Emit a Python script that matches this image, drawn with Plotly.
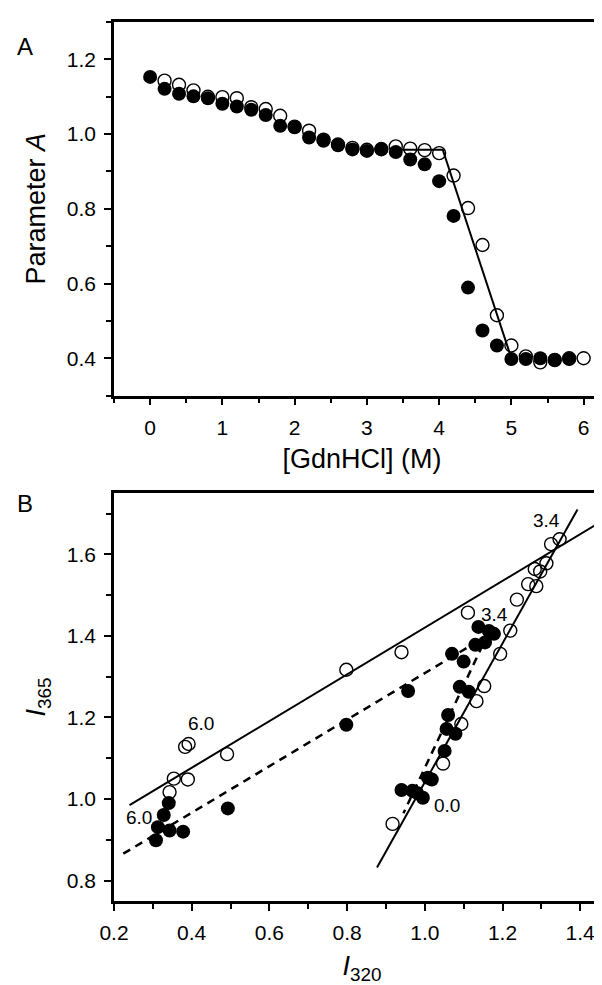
import plotly.graph_objects as go

# ---------------- Panel A data ----------------
conc_filled = [0.0, 0.2, 0.4, 0.6, 0.8, 1.0, 1.2, 1.4, 1.6, 1.8,
               2.0, 2.2, 2.4, 2.6, 2.8, 3.0, 3.2, 3.4, 3.6, 3.8,
               4.0, 4.2, 4.4, 4.6, 4.8, 5.0, 5.2, 5.4, 5.6, 5.8]
paramA_filled = [1.153, 1.121, 1.108, 1.101, 1.096, 1.081, 1.074, 1.065, 1.051, 1.022,
                 1.018, 0.991, 0.982, 0.970, 0.959, 0.955, 0.959, 0.952, 0.932, 0.919,
                 0.874, 0.781, 0.589, 0.474, 0.434, 0.398, 0.398, 0.400, 0.396, 0.398]
conc_open = [0.2, 0.4, 0.6, 0.8, 1.0, 1.2, 1.4, 1.6, 1.8, 2.0,
             2.2, 2.4, 2.6, 2.8, 3.0, 3.2, 3.4, 3.6, 3.8, 4.0,
             4.2, 4.4, 4.6, 4.8, 5.0, 5.2, 5.4, 5.6, 5.8, 6.0]
paramA_open = [1.143, 1.132, 1.117, 1.100, 1.099, 1.096, 1.072, 1.067, 1.049, 1.020,
               1.009, 0.985, 0.972, 0.963, 0.958, 0.960, 0.967, 0.961, 0.957, 0.949,
               0.889, 0.802, 0.703, 0.515, 0.434, 0.405, 0.389, 0.395, 0.400, 0.400]
fitA_x = [3.45, 4.05, 5.0]
fitA_y = [0.958, 0.958, 0.40]

# ---------------- Panel B data ----------------
I320_open = [0.343, 0.354, 0.390, 0.383, 0.392, 0.491, 0.798, 0.940, 1.111, 0.917,
             1.047, 1.094, 1.133, 1.153, 1.194, 1.220, 1.237, 1.266, 1.287, 1.283,
             1.297, 1.313, 1.325, 1.347]
I365_open = [1.017, 1.050, 1.048, 1.128, 1.135, 1.110, 1.317, 1.360, 1.457, 0.939,
             1.087, 1.184, 1.240, 1.277, 1.356, 1.413, 1.489, 1.527, 1.522, 1.564,
             1.558, 1.578, 1.625, 1.637]
I320_filled = [0.308, 0.313, 0.343, 0.378, 0.328, 0.341, 0.493, 0.798, 0.957, 0.940,
               0.968, 0.995, 0.980, 1.008, 1.018, 1.051, 1.056, 1.079, 1.060, 1.090,
               1.113, 1.070, 1.100, 1.130, 1.155, 1.138, 1.165, 1.178]
I365_filled = [0.899, 0.931, 0.923, 0.920, 0.961, 0.990, 0.977, 1.182, 1.265, 1.022,
               1.020, 1.003, 1.015, 1.052, 1.048, 1.118, 1.172, 1.160, 1.206, 1.275,
               1.263, 1.356, 1.337, 1.378, 1.384, 1.422, 1.412, 1.405]
fitB_open_shallow_x = [0.24, 1.45]
fitB_open_shallow_y = [0.985, 1.678]
fitB_open_steep_x = [0.877, 1.393]
fitB_open_steep_y = [0.832, 1.710]
fitB_filled_x = [0.224, 1.16, 0.945]
fitB_filled_y = [0.866, 1.40, 0.965]

label_text = ["3.4", "6.0", "3.4", "6.0", "0.0"]
label_x = [1.313, 0.425, 1.180, 0.264, 1.056]
label_y = [1.683, 1.186, 1.453, 0.955, 0.985]

FONT = "Liberation Sans, Arial, sans-serif"
BLACK = "black"

fig = go.Figure()

# Panel A
fig.add_trace(go.Scatter(x=fitA_x, y=fitA_y, mode="lines",
                         line=dict(color=BLACK, width=2), xaxis="x", yaxis="y",
                         showlegend=False, hoverinfo="skip"))
fig.add_trace(go.Scatter(x=conc_open, y=paramA_open, mode="markers",
                         marker=dict(symbol="circle-open", size=13, color=BLACK,
                                     line=dict(width=1.4, color=BLACK)),
                         xaxis="x", yaxis="y", showlegend=False))
fig.add_trace(go.Scatter(x=conc_filled, y=paramA_filled, mode="markers",
                         marker=dict(symbol="circle", size=14, color=BLACK),
                         xaxis="x", yaxis="y", showlegend=False))

# Panel B
fig.add_trace(go.Scatter(x=fitB_open_shallow_x, y=fitB_open_shallow_y, mode="lines",
                         line=dict(color=BLACK, width=2), xaxis="x2", yaxis="y2",
                         showlegend=False, hoverinfo="skip"))
fig.add_trace(go.Scatter(x=fitB_open_steep_x, y=fitB_open_steep_y, mode="lines",
                         line=dict(color=BLACK, width=2), xaxis="x2", yaxis="y2",
                         showlegend=False, hoverinfo="skip"))
fig.add_trace(go.Scatter(x=fitB_filled_x, y=fitB_filled_y, mode="lines",
                         line=dict(color=BLACK, width=2.5, dash="8px,6px"),
                         xaxis="x2", yaxis="y2", showlegend=False, hoverinfo="skip"))
fig.add_trace(go.Scatter(x=I320_open, y=I365_open, mode="markers",
                         marker=dict(symbol="circle-open", size=13, color=BLACK,
                                     line=dict(width=1.4, color=BLACK)),
                         xaxis="x2", yaxis="y2", showlegend=False))
fig.add_trace(go.Scatter(x=I320_filled, y=I365_filled, mode="markers",
                         marker=dict(symbol="circle", size=14, color=BLACK),
                         xaxis="x2", yaxis="y2", showlegend=False))

for t, lx, ly in zip(label_text, label_x, label_y):
    fig.add_annotation(x=lx, y=ly, xref="x2", yref="y2", text=t, showarrow=False,
                       font=dict(family=FONT, size=19, color=BLACK))

fig.add_annotation(x=-0.2, y=0.99, xref="paper", yref="paper", text="A",
                   showarrow=False, font=dict(family=FONT, size=24, color=BLACK))
fig.add_annotation(x=-0.2, y=0.452, xref="paper", yref="paper", text="B",
                   showarrow=False, font=dict(family=FONT, size=24, color=BLACK))

common = dict(showline=True, linecolor=BLACK, linewidth=2.5, ticks="outside",
              ticklen=7, tickwidth=2, tickcolor=BLACK, showgrid=False, zeroline=False,
              tickfont=dict(family=FONT, size=21, color=BLACK), ticklabelstandoff=4)

fig.update_layout(
    width=602, height=985,
    margin=dict(l=106, r=0, t=14, b=92),
    paper_bgcolor="white", plot_bgcolor="white",
    font=dict(family=FONT, color=BLACK),
    xaxis=dict(common, domain=[0, 1], anchor="y", range=[-0.5, 6.365], tick0=0, dtick=1,
               mirror=True,
               minor=dict(dtick=0.5, tick0=0, ticks="outside", ticklen=5, tickwidth=2,
                          tickcolor=BLACK),
               title=dict(text="[GdnHCl] (M)", font=dict(family=FONT, size=27, color=BLACK),
                          standoff=12)),
    yaxis=dict(common, domain=[0.575, 1], anchor="x", range=[0.3, 1.3], tick0=0, dtick=0.2,
               tickformat=".1f",
               minor=dict(dtick=0.1, tick0=0, ticks="outside", ticklen=5, tickwidth=2,
                          tickcolor=BLACK),
               title=dict(text="Parameter <i>A</i>", font=dict(family=FONT, size=27, color=BLACK),
                          standoff=14)),
    xaxis2=dict(common, domain=[0, 1], anchor="y2", range=[0.2, 1.4767], tick0=0, dtick=0.2,
                tickformat=".1f", mirror=True,
                minor=dict(dtick=0.1, tick0=0, ticks="outside", ticklen=5, tickwidth=2,
                           tickcolor=BLACK),
                title=dict(text="<i>I</i><sub>320</sub>", font=dict(family=FONT, size=27, color=BLACK),
                           standoff=14)),
    yaxis2=dict(common, domain=[0, 0.464], anchor="x2", range=[0.75, 1.75], tick0=0, dtick=0.2,
                tickformat=".1f",
                minor=dict(dtick=0.1, tick0=0, ticks="outside", ticklen=5, tickwidth=2,
                           tickcolor=BLACK),
                title=dict(text="<i>I</i><sub>365</sub>", font=dict(family=FONT, size=27, color=BLACK),
                           standoff=14)),
)

fig.write_html("out.html")
